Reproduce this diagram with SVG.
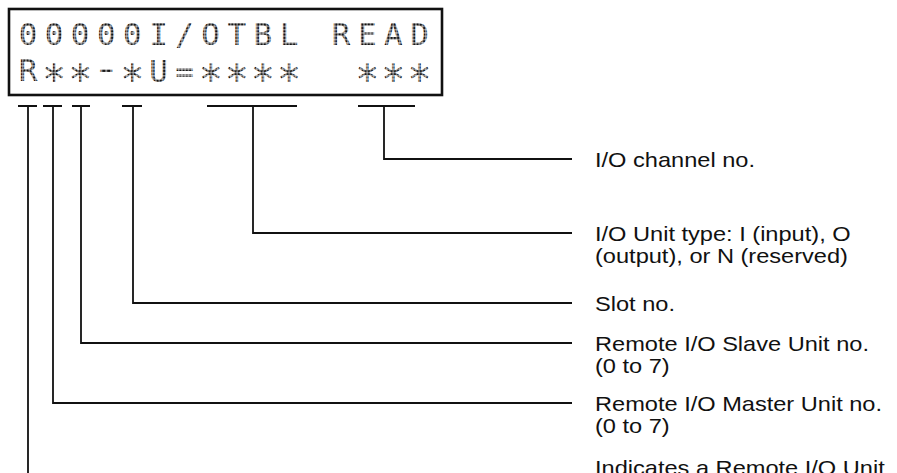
<svg xmlns="http://www.w3.org/2000/svg" width="897" height="473" viewBox="0 0 897 473">
<style>
.lcd{font-family:"DejaVu Sans Mono","Liberation Mono",monospace;font-size:31px;fill:url(#dots);text-anchor:middle}
.big{font-size:40px}
.lbl{font-family:"Liberation Sans",Arial,sans-serif;font-size:20px;fill:#111}
.conn{fill:none;stroke:#111;stroke-width:1.8}
.box{fill:#fff;stroke:#111;stroke-width:2.6}
</style>
<defs>
<pattern id="dots" patternUnits="userSpaceOnUse" width="3.25" height="3.3">
<rect x="0.3" y="0.3" width="2.6" height="2.6" fill="#151515"/>
</pattern>
</defs>
<rect width="897" height="473" fill="#fff"/>
<g id="display">
<rect class="box" x="9" y="9" width="433" height="86"/>
<text class="lcd" x="28 54.1 80.2 106.3 132.4 158.5 184.6 210.7 236.8 262.9 289" y="45">00000I/OTBL</text>
<text class="lcd" x="341.2 367.3 393.4 419.5" y="45">READ</text>
<text class="lcd" x="28" y="81">R</text>
<text class="lcd" transform="translate(106.3,0) scale(1.5,1)" x="0" y="79">-</text>
<text class="lcd" x="158.5 184.6" y="82">U=</text>
<text class="lcd big" x="54.1 80.2" y="94">**</text>
<text class="lcd big" x="132.4" y="94">*</text>
<text class="lcd big" x="210.7 236.8 262.9 289" y="94">****</text>
<text class="lcd big" x="367.3 393.4 419.5" y="94">***</text>
</g>
<g id="connectors" class="conn">
<path d="M358,106H415M384,106V159H572"/>
<path d="M207,106H297M253,106V233H572"/>
<path d="M122,106H142M133,106V303H572"/>
<path d="M72,106H90M81,106V343H572"/>
<path d="M43,106H62M53,106V403H572"/>
<path d="M18,106H37M28,106V495H572"/>
</g>
<g id="label-channel" class="lbl" transform="translate(595,166.5) scale(1.18,1)"><text>I/O channel no.</text></g>
<g id="label-type" class="lbl" transform="translate(595,240.5) scale(1.18,1)"><text><tspan x="0" y="0">I/O Unit type: I (input), O</tspan><tspan x="0" y="23">(output), or N (reserved)</tspan></text></g>
<g id="label-slot" class="lbl" transform="translate(595,310.5) scale(1.18,1)"><text>Slot no.</text></g>
<g id="label-slave" class="lbl" transform="translate(595,350.5) scale(1.18,1)"><text><tspan x="0" y="0">Remote I/O Slave Unit no.</tspan><tspan x="0" y="23">(0 to 7)</tspan></text></g>
<g id="label-master" class="lbl" transform="translate(595,410.5) scale(1.18,1)"><text><tspan x="0" y="0">Remote I/O Master Unit no.</tspan><tspan x="0" y="23">(0 to 7)</tspan></text></g>
<g id="label-remote" class="lbl" transform="translate(595,475) scale(1.18,1)"><text>Indicates a Remote I/O Unit</text></g>
</svg>
